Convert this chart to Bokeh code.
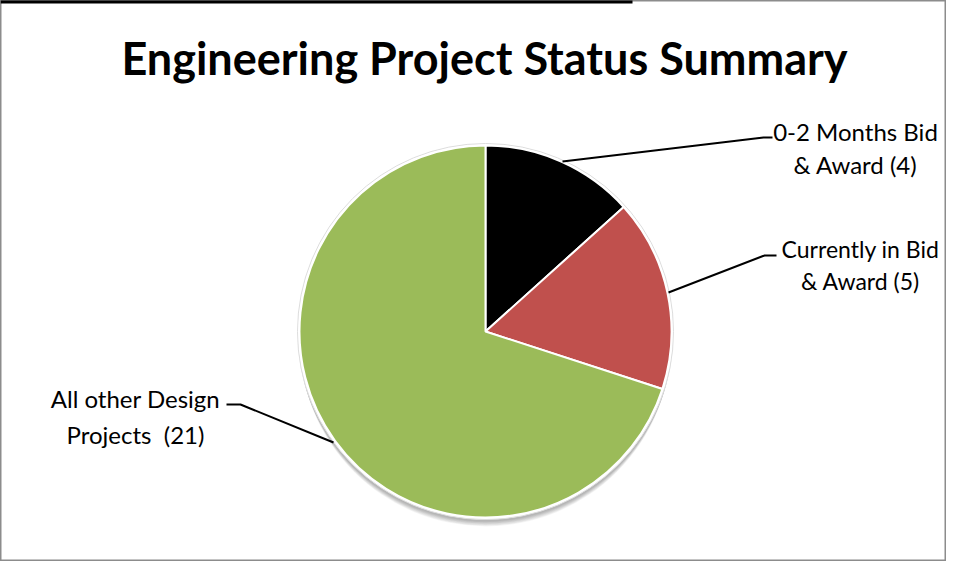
import math
from bokeh.plotting import figure
from bokeh.models import ColumnDataSource, Range1d
from bokeh.core.properties import value
from bokeh.embed import file_html
from bokeh.resources import INLINE

# ---- data ----
title_text = "Engineering Project Status Summary"
categories = ["0-2 Months Bid & Award", "Currently in Bid & Award", "All other Design Projects"]
counts = [4, 5, 21]
label_line1 = ["0-2 Months Bid", "Currently in Bid", "All other Design"]
label_line2 = ["& Award (4)", "& Award (5)", "Projects \u00a0(21)"]
colors = ["#000000", "#C0504D", "#9BBB59"]

W, H = 946, 561
p = figure(width=W, height=H, output_backend="svg", toolbar_location=None,
           x_range=Range1d(0, W), y_range=Range1d(0, H), min_border=0)
p.axis.visible = False
p.grid.visible = False
p.outline_line_color = "#8c8c8c"
p.outline_line_width = 2
p.background_fill_color = "white"
p.border_fill_color = "white"

def X(x):
    return x

def Y(y):
    return H - y

cx, cy, R = X(485), Y(331), 186

# top black artifact bar of the frame
p.segment(x0=[0], y0=[H - 1], x1=[X(632)], y1=[H - 1], line_color="black", line_width=4)

# soft shadow
for i in range(8):
    p.circle(x=[cx], y=[cy - 2 - i], radius=R + 2 - i * 0.3, fill_color="#000000",
             fill_alpha=0.04, line_color=None)
p.circle(x=[cx], y=[cy], radius=R + 2, fill_color="white", line_color="#dddddd", line_width=1)

total = sum(counts)
starts, ends = [], []
cum = 0.0
for c in counts:
    a0 = cum / total * 2 * math.pi
    cum += c
    a1 = cum / total * 2 * math.pi
    starts.append(math.pi / 2 - a1)
    ends.append(math.pi / 2 - a0)

src = ColumnDataSource(dict(start=starts, end=ends, color=colors, cat=categories, n=counts))
p.wedge(x=cx, y=cy, radius=R, start_angle="start", end_angle="end", fill_color="color",
        line_color="white", line_width=2, source=src)

# leader lines
leaders = [
    [(562, 161), (763, 137), (772, 137)],
    [(668, 292), (764, 255), (776, 255)],
    [(333, 442), (240, 404), (226, 404)],
]
for pts in leaders:
    p.line(x=[X(a) for a, b in pts], y=[Y(b) for a, b in pts], line_color="black", line_width=2)

label_pos = [(855, 131, 164, "24px"), (860, 248, 280, "23px"), (135, 398, 434, "24px")]
font = value("Lato")
for (lx, ly1, ly2, fs), t1, t2 in zip(label_pos, label_line1, label_line2):
    p.text(x=[X(lx)], y=[Y(ly1)], text=[t1], text_font=font, text_font_size=fs,
           text_align="center", text_baseline="middle", text_color="black")
    p.text(x=[X(lx)], y=[Y(ly2)], text=[t2], text_font=font, text_font_size=fs,
           text_align="center", text_baseline="middle", text_color="black")

p.text(x=[X(484)], y=[Y(57)], text=[title_text], text_font=font, text_font_style="bold",
       text_font_size="45px", text_align="center", text_baseline="middle", text_color="black")

open("out.html", "w").write(file_html(p, INLINE))
